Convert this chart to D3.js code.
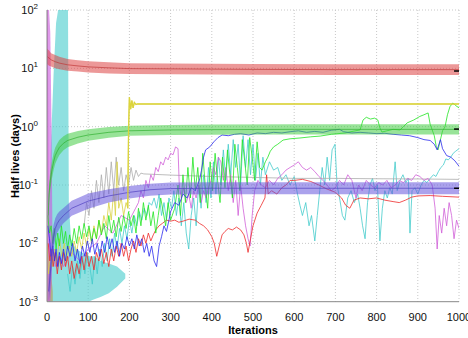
<!DOCTYPE html>
<html>
<head>
<meta charset="utf-8">
<script src="https://cdn.jsdelivr.net/npm/d3@7"></script>
<style>
  body { margin: 0; background: #fff; }
  svg { display: block; font-family: "Liberation Sans", Arial, sans-serif; }
</style>
</head>
<body>
<div id="chart"></div>
<script>
// Half-life traces vs iterations (log scale)

const W = 468, H = 338;
const xTicks = [0, 100, 200, 300, 400, 500, 600, 700, 800, 900, 1000];
const yExps = [-3, -2, -1, 0, 1, 2];

// bands: iteration, centre, multiplicative half-width
const redBandIter = [0, 5, 10, 20, 30, 50, 75, 100, 150, 200, 300, 400, 500, 700, 1000];
const redBandMid = [16, 15, 14, 13, 12.3, 11.5, 11, 10.6, 10.2, 9.9, 9.8, 9.7, 9.6, 9.5, 9.5];
const redBandSpread = [1.35, 1.35, 1.3, 1.3, 1.28, 1.26, 1.25, 1.25, 1.25, 1.24, 1.24, 1.24, 1.24, 1.24, 1.24];

const greenBandIter = [3, 5, 8, 12, 16, 20, 25, 30, 40, 50, 75, 100, 150, 200, 300, 400, 600, 800, 1000];
const greenBandMid = [0.03, 0.07, 0.12, 0.18, 0.25, 0.32, 0.38, 0.44, 0.52, 0.58, 0.66, 0.72, 0.8, 0.85, 0.88, 0.89, 0.9, 0.9, 0.9];
const greenBandSpread = [1.6, 1.5, 1.45, 1.4, 1.4, 1.38, 1.36, 1.35, 1.32, 1.3, 1.28, 1.26, 1.24, 1.22, 1.22, 1.22, 1.22, 1.22, 1.22];

const purpleBandIter = [4, 8, 12, 16, 20, 25, 30, 40, 60, 100, 150, 200, 250, 300, 400, 1000];
const purpleBandMid = [0.0015, 0.003, 0.007, 0.013, 0.018, 0.022, 0.025, 0.03, 0.04, 0.053, 0.065, 0.075, 0.083, 0.087, 0.088, 0.088];
const purpleBandSpread = [1.6, 1.8, 1.8, 1.6, 1.5, 1.45, 1.4, 1.35, 1.35, 1.35, 1.3, 1.28, 1.27, 1.27, 1.27, 1.27];

// early wide areas: iteration, low, high
const cyanAreaIter = [4, 10, 16, 22, 27, 40, 51, 53, 58, 70, 85, 100, 115, 130, 150, 170, 190];
const cyanAreaLo = [0.001, 0.001, 0.001, 0.001, 0.001, 0.001, 0.001, 0.001, 0.001, 0.001, 0.001, 0.001, 0.0011, 0.0012, 0.0014, 0.0018, 0.0025];
const cyanAreaHi = [0.02, 0.6, 8, 60, 100, 100, 100, 0.05, 0.012, 0.008, 0.007, 0.006, 0.006, 0.005, 0.0045, 0.004, 0.003];

const violetAreaIter = [0, 2, 5, 8, 11, 13];
const violetAreaLo = [0.001, 0.001, 0.001, 0.001, 0.002, 0.01];
const violetAreaHi = [100, 100, 100, 40, 1, 0.02];

const tanAreaIter = [0, 3, 6, 10, 14];
const tanAreaLo = [0.001, 0.001, 0.001, 0.001, 0.001];
const tanAreaHi = [0.02, 0.008, 0.005, 0.003, 0.0015];

// thin traces [iteration, value]
const blueTrace = [[2,0.02],[6,0.012],[10,0.006],[14,0.009],[18,0.005],[22,0.008],[26,0.004],[30,0.007],[35,0.0045],[40,0.008],[45,0.005],[50,0.009],[56,0.006],[62,0.01],[68,0.005],[74,0.008],[80,0.0045],[86,0.009],[92,0.006],[98,0.011],[104,0.007],[110,0.012],[116,0.0065],[122,0.01],[128,0.006],[134,0.011],[140,0.007],[146,0.013],[152,0.008],[158,0.012],[164,0.007],[170,0.011],[176,0.006],[182,0.01],[188,0.008],[194,0.013],[200,0.009],[206,0.012],[212,0.008],[218,0.014],[224,0.009],[230,0.012],[236,0.007],[242,0.01],[248,0.006],[254,0.009],[260,0.005],[266,0.004],[272,0.009],[278,0.013],[284,0.02],[290,0.016],[296,0.025],[300,0.035],[310,0.05],[320,0.045],[330,0.07],[340,0.06],[350,0.09],[360,0.08],[370,0.12],[375,0.18],[380,0.3],[385,0.4],[395,0.45],[405,0.55],[415,0.65],[425,0.72],[440,0.7],[455,0.74],[470,0.76],[490,0.72],[510,0.78],[530,0.76],[550,0.8],[570,0.78],[590,0.82],[610,0.85],[630,0.8],[650,0.83],[670,0.8],[690,0.87],[710,0.9],[720,0.82],[740,0.78],[760,0.8],[780,0.78],[800,0.76],[820,0.77],[840,0.74],[860,0.72],[880,0.7],[900,0.65],[915,0.6],[930,0.58],[940,0.5],[947,0.4],[955,0.6],[960,0.42],[970,0.32],[980,0.3],[990,0.26],[1000,0.21]];

const redTrace = [[3,0.01],[7,0.005],[11,0.008],[15,0.004],[20,0.007],[25,0.003],[30,0.006],[35,0.0035],[40,0.007],[45,0.004],[50,0.006],[55,0.003],[60,0.005],[66,0.0025],[72,0.0045],[78,0.003],[84,0.006],[90,0.0035],[96,0.007],[102,0.004],[108,0.006],[114,0.0035],[120,0.007],[126,0.005],[132,0.008],[138,0.0045],[144,0.007],[150,0.004],[156,0.008],[162,0.005],[168,0.009],[174,0.006],[180,0.01],[186,0.006],[192,0.009],[198,0.005],[204,0.008],[210,0.011],[216,0.007],[222,0.012],[228,0.009],[234,0.014],[240,0.01],[246,0.015],[252,0.011],[258,0.014],[264,0.017],[272,0.02],[280,0.022],[290,0.025],[300,0.024],[310,0.025],[320,0.023],[330,0.024],[345,0.026],[360,0.025],[370,0.022],[380,0.02],[390,0.017],[400,0.013],[406,0.01],[412,0.006],[418,0.009],[425,0.014],[432,0.016],[440,0.018],[450,0.017],[460,0.019],[470,0.017],[478,0.014],[484,0.01],[488,0.007],[494,0.012],[500,0.02],[510,0.033],[520,0.045],[529,0.06],[533,0.15],[537,0.07],[545,0.08],[558,0.07],[570,0.09],[580,0.1],[590,0.12],[600,0.12],[620,0.125],[640,0.115],[660,0.1],[680,0.085],[700,0.075],[715,0.06],[725,0.045],[735,0.04],[745,0.055],[760,0.06],[780,0.058],[800,0.06],[820,0.055],[840,0.052],[855,0.05],[870,0.055],[885,0.062],[900,0.065],[930,0.066],[960,0.064],[1000,0.062]];

const greenTrace = [[2,0.03],[6,0.015],[10,0.02],[14,0.01],[18,0.018],[22,0.008],[26,0.015],[30,0.009],[35,0.02],[40,0.01],[45,0.016],[50,0.008],[55,0.014],[60,0.009],[66,0.018],[72,0.01],[78,0.02],[84,0.012],[90,0.022],[96,0.013],[102,0.02],[108,0.011],[114,0.018],[120,0.012],[126,0.025],[132,0.014],[138,0.022],[144,0.012],[150,0.03],[156,0.015],[162,0.025],[168,0.013],[174,0.028],[180,0.016],[186,0.03],[192,0.018],[198,0.035],[204,0.02],[210,0.03],[216,0.015],[222,0.04],[228,0.02],[234,0.05],[240,0.025],[246,0.045],[252,0.02],[258,0.035],[264,0.015],[270,0.03],[276,0.06],[282,0.035],[288,0.02],[294,0.05],[300,0.025],[310,0.04],[318,0.1],[324,0.03],[330,0.15],[336,0.05],[342,0.2],[348,0.06],[354,0.3],[360,0.08],[366,0.2],[372,0.05],[378,0.35],[384,0.1],[390,0.04],[396,0.25],[402,0.08],[408,0.35],[414,0.12],[420,0.05],[426,0.3],[432,0.09],[438,0.4],[444,0.15],[450,0.06],[456,0.5],[462,0.2],[468,0.08],[474,0.6],[480,0.25],[486,0.1],[492,0.65],[498,0.3],[504,0.12],[510,0.55],[516,0.2],[522,0.18],[530,0.25],[536,0.3],[542,0.38],[550,0.45],[560,0.5],[573,0.59],[590,0.62],[614,0.64],[640,0.67],[663,0.69],[690,0.74],[723,0.78],[745,0.84],[760,0.88],[767,1.3],[775,1.45],[785,1.35],[795,1.4],[803,1.3],[808,0.95],[813,0.81],[825,0.85],[840,0.9],[857,0.88],[865,1.0],[874,1.16],[890,1.3],[905,1.5],[915,1.6],[925,1.72],[930,1.1],[940,0.7],[945,0.45],[949,0.4],[955,0.6],[960,0.85],[966,0.99],[972,1.6],[978,2.2],[985,2.55],[992,2.3],[1000,2.1]];

const yellowTrace = [[0,0.01],[4,0.003],[8,0.006],[12,0.004],[18,0.008],[24,0.005],[30,0.012],[36,0.006],[42,0.01],[48,0.005],[54,0.009],[60,0.006],[66,0.011],[72,0.007],[78,0.013],[84,0.008],[90,0.015],[96,0.009],[102,0.018],[108,0.01],[114,0.02],[120,0.012],[126,0.025],[132,0.015],[138,0.03],[144,0.02],[150,0.05],[156,0.025],[162,0.08],[166,0.03],[170,0.25],[174,0.04],[180,0.06],[186,0.03],[192,0.05],[196,0.04],[198,0.9],[200,3.2],[203,2.0],[206,2.8],[209,2.1],[212,2.6],[216,2.4],[220,2.45],[1000,2.45]];

const grayTrace = [[90,0.02],[96,0.05],[102,0.03],[108,0.08],[114,0.04],[120,0.12],[126,0.05],[132,0.15],[138,0.06],[144,0.2],[150,0.07],[156,0.25],[162,0.08],[168,0.3],[174,0.1],[180,0.2],[186,0.08],[192,0.15],[198,0.1],[204,0.2],[210,0.12],[216,0.18],[222,0.14],[228,0.16],[235,0.155],[300,0.148],[400,0.14],[500,0.135],[600,0.13],[700,0.13],[800,0.128],[900,0.127],[1000,0.125]];

const violetTrace = [[0,100],[1,20],[2,1],[3,0.05],[5,0.01],[10,0.005],[15,0.008],[20,0.004],[30,0.006],[40,0.004],[60,0.007],[80,0.005],[100,0.008],[120,0.01],[140,0.02],[160,0.015],[180,0.03],[200,0.025],[215,0.04],[222,0.05],[228,0.08],[234,0.06],[240,0.12],[246,0.09],[252,0.15],[258,0.12],[264,0.2],[270,0.17],[276,0.25],[282,0.22],[288,0.3],[294,0.27],[300,0.35],[306,0.33],[312,0.45],[318,0.42],[321,0.1],[326,0.06],[332,0.09],[338,0.05],[344,0.07],[350,0.04],[356,0.08],[362,0.06],[368,0.1],[374,0.05],[380,0.08],[386,0.06],[392,0.09],[398,0.12],[404,0.2],[410,0.15],[416,0.3],[422,0.25],[428,0.12],[434,0.2],[440,0.08],[446,0.15],[452,0.05],[458,0.12],[464,0.03],[470,0.1],[476,0.04],[482,0.02],[488,0.012],[493,0.009],[498,0.03],[504,0.08],[512,0.12],[520,0.1],[530,0.09],[540,0.12],[550,0.1],[560,0.13],[570,0.15],[580,0.18],[590,0.2],[600,0.22],[610,0.25],[620,0.2],[630,0.18],[640,0.2],[650,0.17],[660,0.14],[670,0.12],[680,0.1],[690,0.08],[700,0.09],[710,0.12],[720,0.1],[730,0.15],[740,0.12],[750,0.06],[756,0.1],[765,0.08],[775,0.12],[785,0.1],[795,0.09],[805,0.11],[815,0.1],[825,0.12],[835,0.09],[845,0.1],[855,0.12],[865,0.11],[875,0.13],[885,0.12],[895,0.15],[905,0.14],[915,0.12],[925,0.13],[935,0.1],[942,0.04],[947,0.008],[952,0.03],[958,0.015],[964,0.04],[970,0.02],[976,0.05],[982,0.03],[988,0.012],[994,0.025],[1000,0.018]];

const cyanTrace = [[50,0.003],[56,0.0015],[62,0.004],[68,0.002],[74,0.005],[80,0.0025],[86,0.006],[92,0.003],[98,0.007],[104,0.004],[110,0.002],[116,0.006],[122,0.003],[128,0.008],[134,0.004],[140,0.01],[146,0.005],[152,0.012],[158,0.006],[164,0.015],[170,0.008],[176,0.018],[182,0.01],[188,0.02],[194,0.012],[200,0.025],[206,0.015],[212,0.03],[218,0.02],[224,0.035],[230,0.025],[236,0.04],[242,0.03],[248,0.05],[254,0.045],[260,0.06],[266,0.04],[272,0.07],[278,0.03],[284,0.05],[290,0.025],[296,0.06],[302,0.04],[308,0.08],[314,0.03],[320,0.06],[326,0.02],[332,0.05],[338,0.015],[344,0.008],[350,0.03],[356,0.06],[362,0.02],[368,0.1],[374,0.04],[380,0.15],[386,0.05],[392,0.2],[398,0.06],[404,0.25],[410,0.07],[416,0.3],[422,0.1],[428,0.4],[434,0.12],[440,0.5],[446,0.15],[452,0.6],[458,0.2],[464,0.5],[470,0.1],[476,0.7],[482,0.2],[488,0.6],[494,0.15],[500,0.5],[506,0.12],[512,0.35],[518,0.1],[524,0.3],[530,0.15],[540,0.25],[550,0.18],[560,0.2],[570,0.12],[580,0.15],[590,0.1],[600,0.14],[608,0.07],[614,0.045],[620,0.03],[628,0.05],[636,0.02],[642,0.03],[650,0.011],[656,0.03],[662,0.08],[668,0.2],[674,0.1],[680,0.3],[686,0.12],[692,0.4],[699,0.5],[704,0.1],[711,0.055],[717,0.03],[723,0.025],[730,0.06],[738,0.08],[746,0.05],[754,0.07],[760,0.04],[766,0.02],[772,0.012],[778,0.05],[784,0.1],[790,0.13],[796,0.08],[802,0.1],[808,0.011],[814,0.04],[820,0.08],[826,0.06],[832,0.09],[838,0.07],[845,0.25],[850,0.08],[857,0.12],[864,0.15],[871,0.11],[877,0.13],[881,0.015],[886,0.08],[893,0.09],[900,0.07],[908,0.1],[915,0.12],[922,0.11],[930,0.13],[938,0.15],[944,0.14],[950,0.17],[956,0.2],[962,0.22],[968,0.28],[974,0.27],[980,0.3],[986,0.35],[992,0.38],[1000,0.42]];

// true values marked at the right edge
const trueValues = [9.0, 0.91, 0.088];

const x = d3.scaleLinear().domain([0, 1000]).range([47, 459]);
const y = d3.scaleLog().domain([1e-3, 1e2]).range([301.7, 10]).clamp(true);

const svg = d3.select("#chart").append("svg")
    .attr("width", W)
    .attr("height", H);

svg.append("clipPath").attr("id", "plot")
  .append("rect")
    .attr("x", x(0)).attr("y", y(1e2))
    .attr("width", x(1000) - x(0)).attr("height", y(1e-3) - y(1e2));

// grid
const grid = svg.append("g").attr("stroke", "#c8c8c8").attr("stroke-dasharray", "1,2");
grid.selectAll(".vg").data(xTicks.slice(1)).join("line")
    .attr("x1", d => x(d)).attr("x2", d => x(d))
    .attr("y1", y(1e2)).attr("y2", y(1e-3));
grid.selectAll(".hg").data(yExps.slice(1)).join("line")
    .attr("y1", d => y(10 ** d)).attr("y2", d => y(10 ** d))
    .attr("x1", x(0)).attr("x2", x(1000));

const plot = svg.append("g").attr("clip-path", "url(#plot)");

const line = d3.line().x(d => x(d[0])).y(d => y(d[1]));

function areaFrom(iters, lo, hi) {
  const pts = iters.map((t, i) => ({ t, lo: lo[i], hi: hi[i] }));
  return d3.area().x(d => x(d.t)).y0(d => y(d.lo)).y1(d => y(d.hi))(pts);
}
function bandFrom(iters, mid, spread) {
  return areaFrom(iters, mid.map((m, i) => m / spread[i]), mid.map((m, i) => m * spread[i]));
}

// wide early areas
plot.append("path").attr("d", areaFrom(cyanAreaIter, cyanAreaLo, cyanAreaHi))
    .attr("fill", "#44cccc").attr("opacity", 0.6);
plot.append("path").attr("d", areaFrom(tanAreaIter, tanAreaLo, tanAreaHi))
    .attr("fill", "#b8a060").attr("opacity", 0.7);
plot.append("path").attr("d", areaFrom(violetAreaIter, violetAreaLo, violetAreaHi))
    .attr("fill", "#cc55dd").attr("opacity", 0.6);

// thin traces
const traces = [
  { data: cyanTrace, color: "#44cccc" },
  { data: grayTrace, color: "#acacac" },
  { data: violetTrace, color: "#d060d8" },
  { data: yellowTrace, color: "#d8d040" },
  { data: redTrace, color: "#ee2a2a" },
  { data: greenTrace, color: "#22e622" },
  { data: blueTrace, color: "#2a2aee" }
];
plot.selectAll(".trace").data(traces).join("path")
    .attr("class", "trace")
    .attr("d", d => line(d.data))
    .attr("fill", "none")
    .attr("stroke", d => d.color)
    .attr("stroke-width", 0.8)
    .attr("stroke-linejoin", "round");

// bands with centre lines
const bands = [
  { iter: redBandIter, mid: redBandMid, spread: redBandSpread, fill: "#dd4444", stroke: "#c03838" },
  { iter: greenBandIter, mid: greenBandMid, spread: greenBandSpread, fill: "#44cc44", stroke: "#30b030" },
  { iter: purpleBandIter, mid: purpleBandMid, spread: purpleBandSpread, fill: "#6655dd", stroke: "#5040c0" }
];
bands.forEach(b => {
  plot.append("path").attr("d", bandFrom(b.iter, b.mid, b.spread))
      .attr("fill", b.fill).attr("opacity", 0.55);
  plot.append("path").attr("d", line(b.iter.map((t, i) => [t, b.mid[i]])))
      .attr("fill", "none").attr("stroke", b.stroke).attr("stroke-width", 0.7);
});

// yellow constant stays visible on top
plot.append("path").attr("d", line(yellowTrace.filter(d => d[0] >= 196)))
    .attr("fill", "none").attr("stroke", "#dcd43c").attr("stroke-width", 1.3);

// true value markers
svg.selectAll(".truth").data(trueValues).join("line")
    .attr("x1", x(988)).attr("x2", x(1000))
    .attr("y1", d => y(d)).attr("y2", d => y(d))
    .attr("stroke", "#000").attr("stroke-width", 1.5);

// axes
svg.append("line").attr("x1", x(0)).attr("x2", x(0)).attr("y1", y(1e2)).attr("y2", y(1e-3))
    .attr("stroke", "#888");
svg.append("line").attr("x1", x(0)).attr("x2", x(1000)).attr("y1", y(1e-3)).attr("y2", y(1e-3))
    .attr("stroke", "#888");

svg.selectAll(".xl").data(xTicks).join("text")
    .attr("x", d => x(d)).attr("y", 321)
    .attr("text-anchor", "middle").attr("font-size", 11).attr("fill", "#111")
    .text(d => d);

const yl = svg.selectAll(".yl").data(yExps).join("text")
    .attr("x", 38).attr("y", d => y(10 ** d) + 4)
    .attr("text-anchor", "end").attr("font-size", 11).attr("fill", "#111");
yl.append("tspan").text("10");
yl.append("tspan").attr("dy", -5).attr("font-size", 8).text(d => d);

svg.append("text").attr("x", 253).attr("y", 334)
    .attr("text-anchor", "middle").attr("font-size", 11).attr("font-weight", "bold")
    .text("Iterations");
svg.append("text").attr("transform", "translate(19,156) rotate(-90)")
    .attr("text-anchor", "middle").attr("font-size", 11).attr("font-weight", "bold")
    .text("Half lives (days)");
</script>
</body>
</html>
